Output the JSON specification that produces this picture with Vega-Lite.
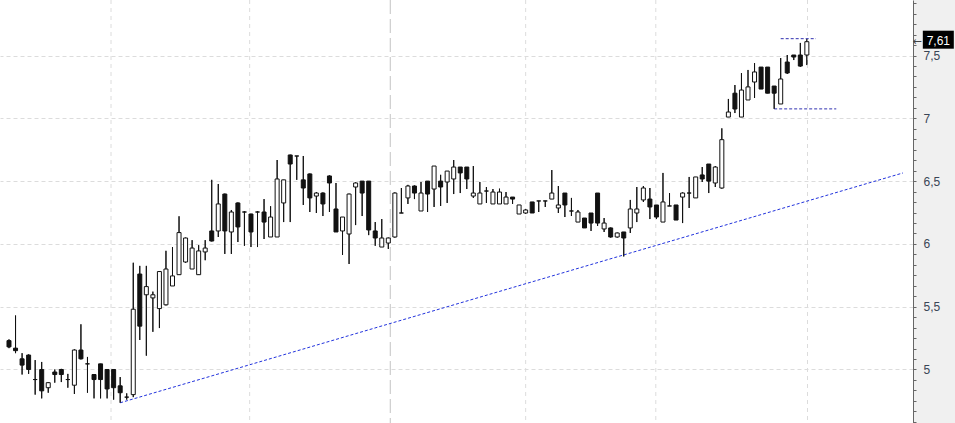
{
  "$schema": "https://vega.github.io/schema/vega-lite/v6.json",
  "width": 913,
  "height": 423,
  "autosize": {"type": "none"},
  "padding": {"left": 0, "top": 0, "right": 42, "bottom": 0},
  "background": "#f0f0f0",
  "view": {"fill": "white", "stroke": null},
  "config": {"font": "Liberation Sans", "axis": {"labelOverlap": false, "tickCount": 60}},
  "datasets": {
    "candles": [
      {"i":0,"o":5.23,"h":5.24,"l":5.17,"c":5.18},
      {"i":1,"o":5.17,"h":5.43,"l":5.13,"c":5.15},
      {"i":2,"o":5.085,"h":5.13,"l":4.96,"c":5.035},
      {"i":3,"o":5.115,"h":5.12,"l":4.965,"c":5.0},
      {"i":4,"o":4.92,"h":5.075,"l":4.8,"c":4.92},
      {"i":5,"o":5.0,"h":5.06,"l":4.77,"c":4.83},
      {"i":6,"o":4.855,"h":4.9,"l":4.815,"c":4.895},
      {"i":7,"o":4.98,"h":5.0,"l":4.895,"c":4.96},
      {"i":8,"o":5.0,"h":5.005,"l":4.9,"c":4.96},
      {"i":9,"o":4.92,"h":4.965,"l":4.855,"c":4.92},
      {"i":10,"o":4.875,"h":5.16,"l":4.805,"c":5.155},
      {"i":11,"o":5.155,"h":5.36,"l":5.08,"c":5.085},
      {"i":12,"o":5.045,"h":5.1,"l":4.815,"c":5.045},
      {"i":13,"o":4.96,"h":4.96,"l":4.77,"c":4.92},
      {"i":14,"o":5.045,"h":5.045,"l":4.77,"c":4.92},
      {"i":15,"o":5.0,"h":5.0,"l":4.77,"c":4.845},
      {"i":16,"o":5.0,"h":5.0,"l":4.76,"c":4.855},
      {"i":17,"o":4.87,"h":4.94,"l":4.735,"c":4.815},
      {"i":18,"o":4.78,"h":4.81,"l":4.76,"c":4.78},
      {"i":19,"o":4.8,"h":5.85,"l":4.78,"c":5.48},
      {"i":20,"o":5.76,"h":5.825,"l":5.235,"c":5.345},
      {"i":21,"o":5.595,"h":5.825,"l":5.11,"c":5.66},
      {"i":22,"o":5.57,"h":5.62,"l":5.3,"c":5.595},
      {"i":23,"o":5.485,"h":5.78,"l":5.33,"c":5.78},
      {"i":24,"o":5.515,"h":5.945,"l":5.51,"c":5.8},
      {"i":25,"o":5.665,"h":5.975,"l":5.665,"c":5.745},
      {"i":26,"o":5.755,"h":6.22,"l":5.755,"c":6.09},
      {"i":27,"o":5.856,"h":6.05,"l":5.85,"c":6.047},
      {"i":28,"o":5.8,"h":6.03,"l":5.8,"c":5.967},
      {"i":29,"o":5.755,"h":5.99,"l":5.755,"c":5.944},
      {"i":30,"o":5.936,"h":6.03,"l":5.87,"c":5.967},
      {"i":31,"o":6.103,"h":6.51,"l":6.02,"c":6.023},
      {"i":32,"o":6.103,"h":6.477,"l":6.055,"c":6.318},
      {"i":33,"o":6.397,"h":6.4,"l":5.92,"c":6.103},
      {"i":34,"o":6.095,"h":6.27,"l":5.92,"c":6.254},
      {"i":35,"o":6.326,"h":6.33,"l":6.015,"c":6.135},
      {"i":36,"o":6.254,"h":6.26,"l":5.985,"c":6.254},
      {"i":37,"o":6.238,"h":6.24,"l":5.975,"c":6.095},
      {"i":38,"o":6.254,"h":6.26,"l":5.975,"c":6.254},
      {"i":39,"o":6.254,"h":6.357,"l":6.039,"c":6.174},
      {"i":40,"o":6.055,"h":6.3,"l":6.055,"c":6.214},
      {"i":41,"o":6.055,"h":6.668,"l":6.055,"c":6.517},
      {"i":42,"o":6.326,"h":6.51,"l":6.174,"c":6.51},
      {"i":43,"o":6.708,"h":6.71,"l":6.174,"c":6.636},
      {"i":44,"o":6.7,"h":6.7,"l":6.51,"c":6.7},
      {"i":45,"o":6.51,"h":6.7,"l":6.31,"c":6.445},
      {"i":46,"o":6.557,"h":6.56,"l":6.254,"c":6.366},
      {"i":47,"o":6.381,"h":6.413,"l":6.246,"c":6.405},
      {"i":48,"o":6.405,"h":6.41,"l":6.222,"c":6.318},
      {"i":49,"o":6.541,"h":6.545,"l":6.254,"c":6.485},
      {"i":50,"o":6.278,"h":6.485,"l":6.095,"c":6.095},
      {"i":51,"o":6.103,"h":6.214,"l":5.912,"c":6.214},
      {"i":52,"o":6.079,"h":6.4,"l":5.84,"c":6.397},
      {"i":53,"o":6.453,"h":6.49,"l":6.15,"c":6.485},
      {"i":54,"o":6.5,"h":6.5,"l":6.222,"c":6.405},
      {"i":55,"o":6.5,"h":6.5,"l":6.07,"c":6.111},
      {"i":56,"o":6.103,"h":6.174,"l":5.985,"c":6.047},
      {"i":57,"o":5.975,"h":6.198,"l":5.975,"c":6.047},
      {"i":58,"o":6.007,"h":6.05,"l":5.96,"c":6.047},
      {"i":59,"o":6.055,"h":6.41,"l":6.05,"c":6.405},
      {"i":60,"o":6.246,"h":6.445,"l":6.246,"c":6.246},
      {"i":61,"o":6.366,"h":6.47,"l":6.318,"c":6.461},
      {"i":62,"o":6.461,"h":6.465,"l":6.357,"c":6.405},
      {"i":63,"o":6.262,"h":6.493,"l":6.262,"c":6.405},
      {"i":64,"o":6.5,"h":6.5,"l":6.254,"c":6.397},
      {"i":65,"o":6.437,"h":6.62,"l":6.294,"c":6.62},
      {"i":66,"o":6.5,"h":6.55,"l":6.302,"c":6.453},
      {"i":67,"o":6.493,"h":6.58,"l":6.326,"c":6.58},
      {"i":68,"o":6.517,"h":6.668,"l":6.397,"c":6.612},
      {"i":69,"o":6.612,"h":6.612,"l":6.405,"c":6.565},
      {"i":70,"o":6.612,"h":6.612,"l":6.437,"c":6.517},
      {"i":71,"o":6.381,"h":6.62,"l":6.366,"c":6.405},
      {"i":72,"o":6.318,"h":6.493,"l":6.318,"c":6.405},
      {"i":73,"o":6.421,"h":6.453,"l":6.326,"c":6.421},
      {"i":74,"o":6.318,"h":6.437,"l":6.318,"c":6.413},
      {"i":75,"o":6.318,"h":6.44,"l":6.318,"c":6.413},
      {"i":76,"o":6.318,"h":6.413,"l":6.318,"c":6.373},
      {"i":77,"o":6.373,"h":6.373,"l":6.318,"c":6.357},
      {"i":78,"o":6.238,"h":6.31,"l":6.238,"c":6.31},
      {"i":79,"o":6.246,"h":6.278,"l":6.24,"c":6.27},
      {"i":80,"o":6.334,"h":6.334,"l":6.246,"c":6.246},
      {"i":81,"o":6.342,"h":6.342,"l":6.254,"c":6.342},
      {"i":82,"o":6.342,"h":6.342,"l":6.294,"c":6.342},
      {"i":83,"o":6.357,"h":6.588,"l":6.357,"c":6.405},
      {"i":84,"o":6.286,"h":6.461,"l":6.246,"c":6.31},
      {"i":85,"o":6.405,"h":6.405,"l":6.214,"c":6.31},
      {"i":86,"o":6.262,"h":6.366,"l":6.222,"c":6.262},
      {"i":87,"o":6.174,"h":6.27,"l":6.174,"c":6.254},
      {"i":88,"o":6.206,"h":6.206,"l":6.127,"c":6.127},
      {"i":89,"o":6.246,"h":6.246,"l":6.103,"c":6.166},
      {"i":90,"o":6.405,"h":6.405,"l":6.143,"c":6.166},
      {"i":91,"o":6.119,"h":6.206,"l":6.095,"c":6.166},
      {"i":92,"o":6.127,"h":6.13,"l":6.05,"c":6.055},
      {"i":93,"o":6.055,"h":6.09,"l":6.05,"c":6.087},
      {"i":94,"o":6.095,"h":6.095,"l":5.9,"c":6.047},
      {"i":95,"o":6.127,"h":6.35,"l":6.087,"c":6.278},
      {"i":96,"o":6.246,"h":6.453,"l":6.174,"c":6.278},
      {"i":97,"o":6.35,"h":6.461,"l":6.334,"c":6.445},
      {"i":98,"o":6.357,"h":6.445,"l":6.198,"c":6.294},
      {"i":99,"o":6.31,"h":6.31,"l":6.198,"c":6.214},
      {"i":100,"o":6.174,"h":6.565,"l":6.174,"c":6.334},
      {"i":101,"o":6.302,"h":6.405,"l":6.302,"c":6.302},
      {"i":102,"o":6.31,"h":6.31,"l":6.19,"c":6.19},
      {"i":103,"o":6.373,"h":6.41,"l":6.166,"c":6.405},
      {"i":104,"o":6.405,"h":6.533,"l":6.286,"c":6.405},
      {"i":105,"o":6.366,"h":6.533,"l":6.366,"c":6.533},
      {"i":106,"o":6.549,"h":6.612,"l":6.493,"c":6.517},
      {"i":107,"o":6.636,"h":6.636,"l":6.405,"c":6.5},
      {"i":108,"o":6.485,"h":6.62,"l":6.453,"c":6.612},
      {"i":109,"o":6.445,"h":6.92,"l":6.44,"c":6.83},
      {"i":110,"o":7.01,"h":7.154,"l":7.01,"c":7.05},
      {"i":111,"o":7.2,"h":7.265,"l":7.042,"c":7.074},
      {"i":112,"o":7.01,"h":7.36,"l":7.01,"c":7.225},
      {"i":113,"o":7.146,"h":7.385,"l":7.146,"c":7.25},
      {"i":114,"o":7.289,"h":7.44,"l":7.162,"c":7.369},
      {"i":115,"o":7.408,"h":7.408,"l":7.233,"c":7.233},
      {"i":116,"o":7.408,"h":7.408,"l":7.2,"c":7.2},
      {"i":117,"o":7.257,"h":7.257,"l":7.075,"c":7.2},
      {"i":118,"o":7.114,"h":7.48,"l":7.114,"c":7.313},
      {"i":119,"o":7.448,"h":7.504,"l":7.353,"c":7.361},
      {"i":120,"o":7.504,"h":7.504,"l":7.464,"c":7.488},
      {"i":121,"o":7.504,"h":7.6,"l":7.41,"c":7.416},
      {"i":122,"o":7.504,"h":7.63,"l":7.424,"c":7.61}
    ],
    "vgrid": [
      {"t": 15.6, "kind": "month"},
      {"t": 36.8, "kind": "month"},
      {"t": 58.3, "kind": "year"},
      {"t": 79.0, "kind": "month"},
      {"t": 98.9, "kind": "month"},
      {"t": 122.1, "kind": "month"}
    ],
    "trend": [
      {"t": 17, "v": 4.735},
      {"t": 136.7, "v": 6.565}
    ],
    "extremes": [
      {"name": "max", "v": 7.634, "t0": 118, "t1": 123.4},
      {"name": "min", "v": 7.075, "t0": 117, "t1": 126.5}
    ],
    "last": [{"price": 7.61, "label": "7,61"}]
  },
  "layer": [
    {
      "data": {"name": "candles"},
      "mark": {"type": "rule", "color": "#111111", "strokeWidth": 1},
      "encoding": {
        "x": {"field": "i", "type": "quantitative", "scale": {"domain": [-1.376, 138.23], "nice": false, "zero": false, "padding": 0}, "axis": null},
        "y": {
          "field": "l", "type": "quantitative",
          "scale": {"domain": [4.574, 7.942], "nice": false, "zero": false, "padding": 0},
          "axis": {
            "orient": "right",
            "title": null,
            "values": [4.58333,4.66667,4.75,4.83333,4.91667,5,5.08333,5.16667,5.25,5.33333,5.41667,5.5,5.58333,5.66667,5.75,5.83333,5.91667,6,6.08333,6.16667,6.25,6.33333,6.41667,6.5,6.58333,6.66667,6.75,6.83333,6.91667,7,7.08333,7.16667,7.25,7.33333,7.41667,7.5,7.58333,7.66667,7.75,7.83333,7.91667],
            "tickCount": 60,
            "labelExpr": "abs(datum.value*2 - round(datum.value*2)) < 0.001 ? replace(format(datum.value, '.1~f'), '.', ',') : ''",
            "labelFont": "Liberation Sans",
            "labelFontSize": 12,
            "labelColor": "#3a4556",
            "labelPadding": 7,
            "labelBaseline": "middle",
            "labelOverlap": false,
            "labelBound": false,
            "labelFlush": false,
            "domainColor": "#666666",
            "tickColor": "#666666",
            "tickSize": 3,
            "grid": true,
            "gridColor": "#dcdcdc",
            "gridDash": [4, 3],
            "gridOpacity": {"condition": {"test": "abs(datum.value*2 - round(datum.value*2)) < 0.001", "value": 1}, "value": 0}
          }
        },
        "y2": {"field": "h"}
      }
    },
    {
      "data": {"name": "vgrid"},
      "transform": [{"filter": "datum.kind === 'month'"}],
      "mark": {"type": "rule", "color": "#dcdcdc", "strokeWidth": 1, "strokeDash": [4, 4]},
      "encoding": {
        "x": {"field": "t", "type": "quantitative", "axis": null}
      }
    },
    {
      "data": {"name": "vgrid"},
      "transform": [{"filter": "datum.kind === 'year'"}],
      "mark": {"type": "rule", "color": "#c4c4c4", "strokeWidth": 1, "strokeDash": [14, 5]},
      "encoding": {
        "x": {"field": "t", "type": "quantitative", "axis": null}
      }
    },
    {
      "data": {"name": "trend"},
      "mark": {"type": "line", "color": "#2233dd", "strokeWidth": 1, "strokeDash": [3, 2]},
      "encoding": {
        "x": {"field": "t", "type": "quantitative"},
        "y": {"field": "v", "type": "quantitative", "title": null}
      }
    },
    {
      "data": {"name": "extremes"},
      "mark": {"type": "rule", "color": "#3030b0", "strokeWidth": 1, "strokeDash": [3, 2]},
      "encoding": {
        "x": {"field": "t0", "type": "quantitative"},
        "x2": {"field": "t1"},
        "y": {"field": "v", "type": "quantitative", "title": null}
      }
    },
    {
      "data": {"name": "candles"},
      "mark": {"type": "rule", "color": "#111111", "strokeWidth": 1},
      "encoding": {
        "x": {"field": "i", "type": "quantitative"},
        "y": {"field": "l", "type": "quantitative", "title": null},
        "y2": {"field": "h"}
      }
    },
    {
      "data": {"name": "candles"},
      "mark": {"type": "bar", "orient": "vertical", "width": 4, "stroke": "#111111", "strokeWidth": 1},
      "encoding": {
        "x": {"field": "i", "type": "quantitative"},
        "y": {"field": "o", "type": "quantitative", "title": null},
        "y2": {"field": "c"},
        "fill": {"condition": {"test": "datum.c >= datum.o", "value": "white"}, "value": "#111111"}
      }
    },
    {
      "data": {"name": "last"},
      "mark": {"type": "rect", "width": 31, "height": 18, "color": "black", "yOffset": -2},
      "encoding": {
        "x": {"datum": 142.1, "type": "quantitative"},
        "y": {"field": "price", "type": "quantitative", "title": null}
      }
    },
    {
      "data": {"name": "last"},
      "mark": {"type": "text", "color": "white", "font": "Liberation Sans", "fontSize": 12, "align": "center", "baseline": "middle", "yOffset": -1},
      "encoding": {
        "x": {"datum": 142.1, "type": "quantitative"},
        "y": {"field": "price", "type": "quantitative", "title": null},
        "text": {"field": "label"}
      }
    },
    {
      "data": {"name": "last"},
      "mark": {"type": "text", "text": "←", "color": "#444444", "font": "DejaVu Sans", "fontSize": 11, "align": "center", "baseline": "middle"},
      "encoding": {
        "x": {"datum": 138.85, "type": "quantitative"},
        "y": {"field": "price", "type": "quantitative", "title": null}
      }
    }
  ]
}
